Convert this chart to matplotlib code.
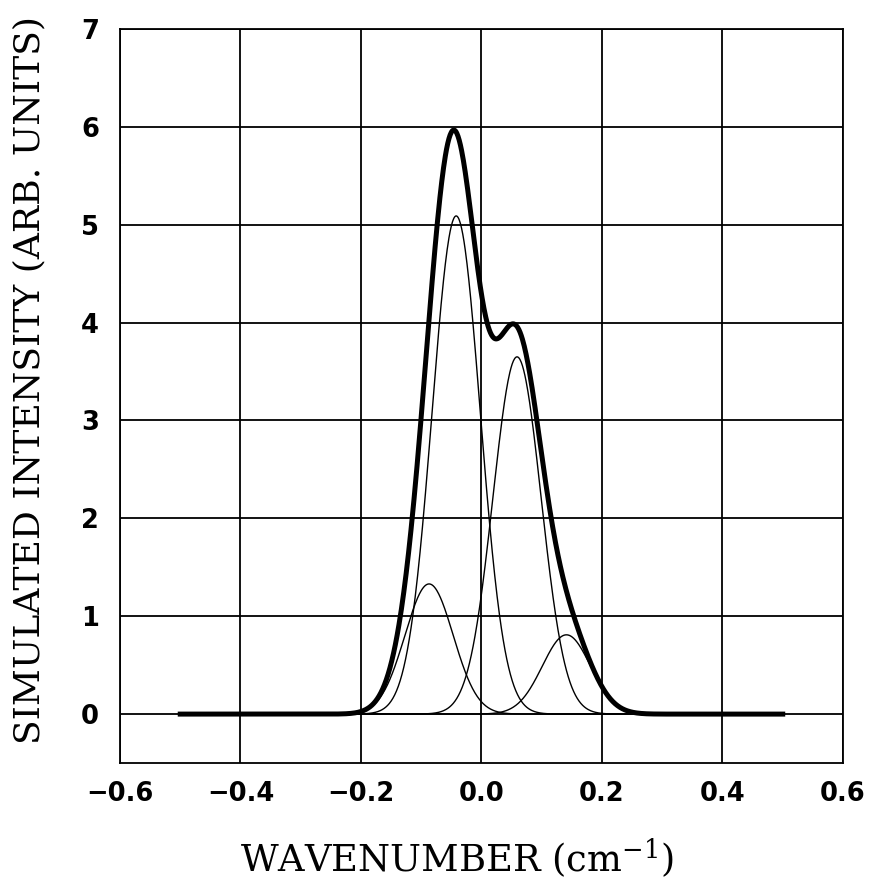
import numpy as np
import matplotlib
matplotlib.use("Agg")
import matplotlib.pyplot as plt

# line components of the simulated band: centre (cm^-1), peak height, gaussian width
centres = [-0.087, -0.042, 0.059, 0.141]
heights = [1.33, 5.09, 3.65, 0.81]
widths = [0.040, 0.040, 0.040, 0.040]

x_range = (-0.5, 0.5)
x_ticks = [-0.6, -0.4, -0.2, 0.0, 0.2, 0.4, 0.6]
y_ticks = [0, 1, 2, 3, 4, 5, 6, 7]

plt.rcParams['mathtext.fontset'] = 'dejavuserif'

wn = np.linspace(x_range[0], x_range[1], 1001)
components = [h * np.exp(-(wn - c) ** 2 / (2 * w ** 2))
              for c, h, w in zip(centres, heights, widths)]
total = np.sum(components, axis=0)

fig = plt.figure(figsize=(8.74, 8.81), dpi=100)
ax = fig.add_axes([0.1373, 0.1339, 0.8272, 0.8332])

for comp in components:
    ax.plot(wn, comp, color='black', lw=1.0)
ax.plot(wn, total, color='black', lw=3.6, solid_joinstyle='round')

ax.set_xlim(-0.6, 0.6)
ax.set_ylim(-0.5, 7)
ax.set_xticks(x_ticks)
ax.set_yticks(y_ticks)
ax.set_xticklabels(['%.1f' % t if t >= 0 else '\u2212%.1f' % abs(t) for t in x_ticks])
ax.grid(True, color='black', lw=1.3)
ax.set_axisbelow(True)
for sp in ax.spines.values():
    sp.set_linewidth(1.3)

ax.tick_params(axis='x', length=0, pad=13)
ax.tick_params(axis='y', length=0, pad=15)
for lab in ax.get_xticklabels() + ax.get_yticklabels():
    lab.set_fontfamily('DejaVu Sans')
    lab.set_fontweight('bold')
    lab.set_fontsize(18.5)

ax.set_xlabel(r'WAVENUMBER (cm$^{\mathregular{-1}}$)', family='DejaVu Serif', fontsize=26.5)
ax.set_ylabel('SIMULATED INTENSITY (ARB. UNITS)', family='DejaVu Serif', fontsize=26)
ax.xaxis.set_label_coords(0.466, -0.1)
ax.yaxis.set_label_coords(-0.102, 0.522)

fig.savefig('out.png', dpi=100)
